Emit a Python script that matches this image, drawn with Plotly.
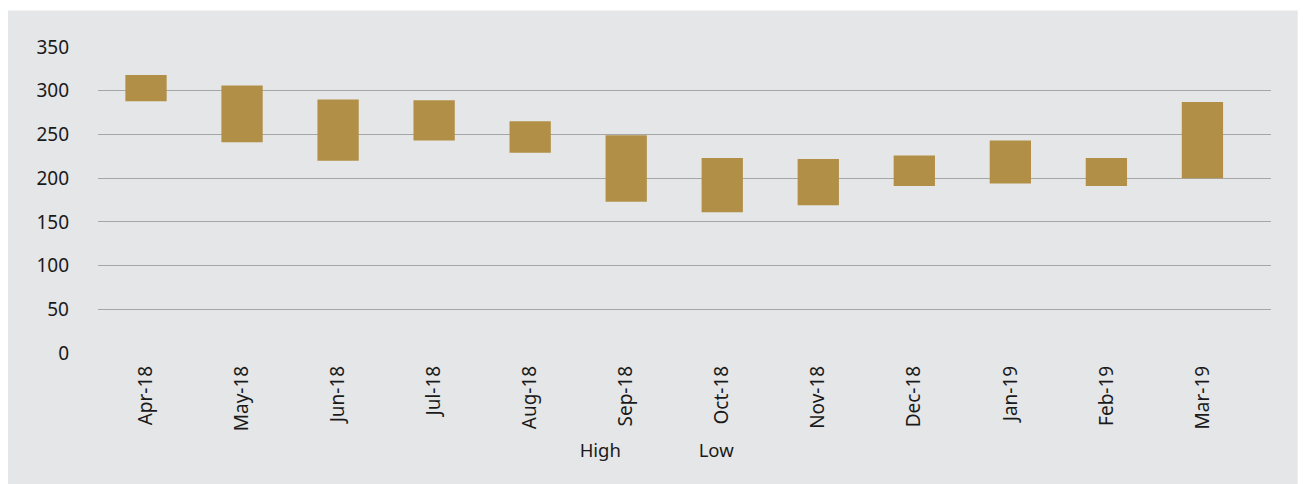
import plotly.graph_objects as go

months = ["Apr-18", "May-18", "Jun-18", "Jul-18", "Aug-18", "Sep-18",
          "Oct-18", "Nov-18", "Dec-18", "Jan-19", "Feb-19", "Mar-19"]
high = [318, 306, 290, 289, 265, 249, 223, 222, 226, 243, 223, 287]
low = [288, 241, 220, 243, 229, 173, 161, 169, 191, 194, 191, 200]
y_ticks = [0, 50, 100, 150, 200, 250, 300, 350]

bar_color = "#B28F46"
panel = "#E5E6E8"
font_family = "Noto Sans, Open Sans, sans-serif"

fig = go.Figure()
fig.add_trace(go.Bar(
    x=months, y=[h - l for h, l in zip(high, low)], base=low,
    marker=dict(color=bar_color, line=dict(width=0)),
    width=0.43, showlegend=False, hoverinfo="skip",
))
fig.add_trace(go.Scatter(x=months, y=high, name="High", mode="lines",
                         line=dict(color="rgba(0,0,0,0)", width=0)))
fig.add_trace(go.Scatter(x=months, y=low, name="Low", mode="lines",
                         line=dict(color="rgba(0,0,0,0)", width=0)))

fig.update_layout(
    width=1303, height=484,
    margin=dict(l=98, r=32, t=46.5, b=130.7),
    paper_bgcolor="white", plot_bgcolor=panel,
    font=dict(family=font_family, size=19, color="#1a1a1a"),
    shapes=[dict(type="rect", xref="paper", yref="paper",
                 x0=-90 / 1173, x1=1 + 26.7 / 1173,
                 y0=-140 / 306.8, y1=1 + 36.5 / 306.8,
                 fillcolor=panel, line=dict(width=0), layer="below")],
    legend=dict(orientation="h", x=0.3765, xanchor="left", y=-0.318,
                yanchor="middle", bgcolor="rgba(0,0,0,0)",
                font=dict(size=18.5), entrywidth=74, itemwidth=30),
    xaxis=dict(type="category", tickangle=-90, showgrid=False, showline=False,
               ticks="", ticklabelstandoff=8, zeroline=False,
               range=[-0.5, 11.714]),
    yaxis=dict(range=[0, 350], tickvals=y_ticks, showgrid=True,
               gridcolor="#A6A6A6", gridwidth=1, zeroline=False, showline=False,
               ticks="", ticklabelstandoff=28),
)

fig.write_html("out.html")
